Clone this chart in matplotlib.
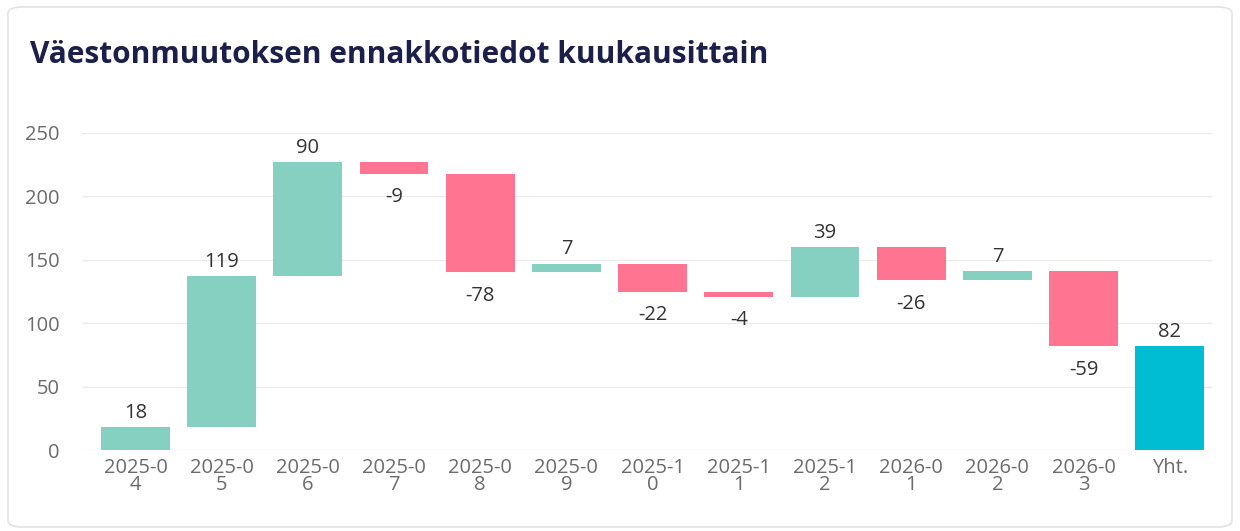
import matplotlib.pyplot as plt
from matplotlib.patches import FancyBboxPatch
import numpy as np

months = ['2025-04', '2025-05', '2025-06', '2025-07', '2025-08', '2025-09',
          '2025-10', '2025-11', '2025-12', '2026-01', '2026-02', '2026-03']
changes = [18, 119, 90, -9, -78, 7, -22, -4, 39, -26, 7, -59]
total_label = 'Yht.'
yticks = [0, 50, 100, 150, 200, 250]

pos_c = '#86D0C2'
neg_c = '#FF7591'
tot_c = '#00BDD3'

plt.rcParams['font.family'] = ['Open Sans', 'DejaVu Sans']

fig = plt.figure(figsize=(12.4, 5.31), dpi=100)

# card background
card = FancyBboxPatch((8 / 1240, 4 / 531), 1224 / 1240, 520 / 531,
                      boxstyle='round,pad=0,rounding_size=0.012',
                      transform=fig.transFigure, facecolor='white',
                      edgecolor='#e3e3e3', linewidth=1.2, zorder=-5)
fig.patches.append(card)

ax = fig.add_axes([82 / 1240, 1 - 450 / 531, 1130 / 1240, 317 / 531])
ax.set_zorder(2)

ends = np.cumsum(changes)
starts = ends - np.array(changes)
x = np.arange(len(changes) + 1)

fs = 14.5
for i, (s, c) in enumerate(zip(starts, changes)):
    col = pos_c if c >= 0 else neg_c
    ax.bar(x[i], c, bottom=s, width=0.8, color=col, zorder=2)
    if c >= 0:
        ax.annotate(str(c), (x[i], s + c), xytext=(0, 3), textcoords='offset points',
                    ha='center', va='bottom', fontsize=fs, color='#333333')
    else:
        ax.annotate(str(c), (x[i], s + c), xytext=(0, -10), textcoords='offset points',
                    ha='center', va='top', fontsize=fs, color='#333333')

total = ends[-1]
ax.bar(x[-1], total, width=0.8, color=tot_c, zorder=2)
ax.annotate(str(total), (x[-1], total), xytext=(0, 3), textcoords='offset points',
            ha='center', va='bottom', fontsize=fs, color='#333333')

labels = [m[:6] + '\n' + m[6:] for m in months] + [total_label]
ax.set_xticks(x)
ax.set_xticklabels(labels, fontsize=fs, color='#6b6b6b', linespacing=0.8)
ax.set_yticks(yticks)
ax.set_yticklabels([str(v) for v in yticks], fontsize=fs, color='#6b6b6b')
ax.set_xlim(-0.62, 12.49)
ax.set_ylim(0, 250)
ax.tick_params(length=0, pad=6)
ax.tick_params(axis='y', pad=16)
ax.grid(axis='y', color='#ebebeb', linewidth=1, zorder=0)
ax.set_axisbelow(True)
for sp in ax.spines.values():
    sp.set_visible(False)
ax.set_facecolor('none')

fig.text(30 / 1240, 1 - 55 / 531, 'Väestonmuutoksen ennakkotiedot kuukausittain',
         fontsize=21.5, fontweight='bold', color='#1b1f4a', va='center', ha='left')

fig.savefig('out.png', dpi=100)
